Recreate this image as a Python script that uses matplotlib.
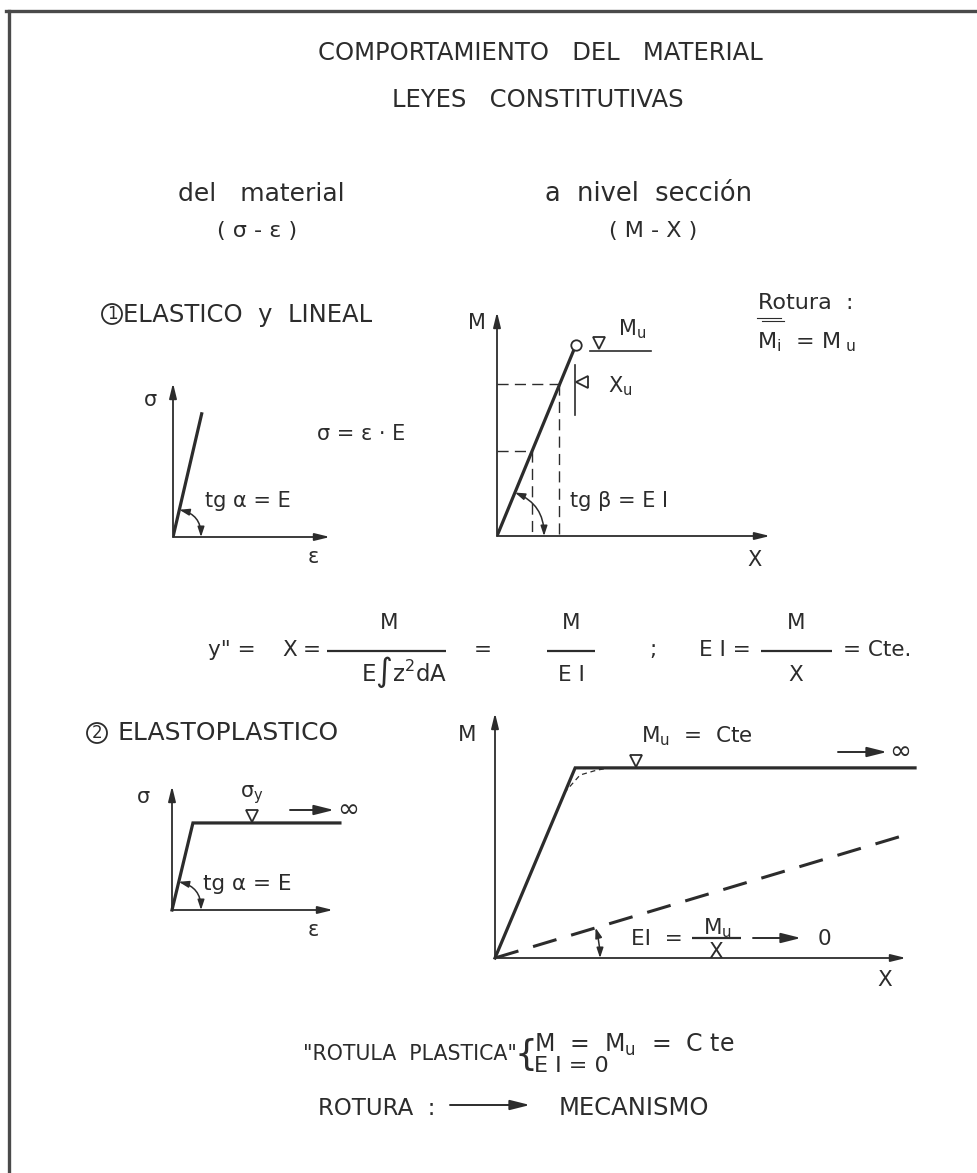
import numpy as np
import matplotlib
matplotlib.use('Agg')
import matplotlib.pyplot as plt
from matplotlib.patches import Circle, FancyArrowPatch

plt.rcParams['font.family'] = ['DejaVu Sans']
plt.rcParams['mathtext.fontset'] = 'dejavusans'
plt.rcParams['mathtext.default'] = 'regular'

W, H = 977, 1173
INK = '#2c2c2c'

# ---------------- data (axis units 0..10) ----------------
# 1) elastic-linear, material  (sigma - epsilon)
eps_lin = [0.0, 1.85]
sig_lin = [0.0, 8.1]
# 1) elastic-linear, section  (M - chi)
chi_lin = [0.0, 2.89]
mom_lin = [0.0, 8.53]
chi_levels = [1.28, 2.27]
mom_levels = [3.79, 6.79]
# 2) elastoplastic, material
eps_ep = [0.0, 1.30, 10.43]
sig_ep = [0.0, 7.02, 7.02]
# 2) elastoplastic, section
chi_ep = [0.0, 1.95, 10.22]
mom_ep = [0.0, 7.76, 7.76]
chi_secant = [0.0, 9.98]
mom_secant = [0.0, 5.02]
chi_round = [1.68, 2.07, 2.48, 2.80]
mom_round = [6.73, 7.47, 7.67, 7.76]

fig = plt.figure(figsize=(W / 100, H / 100), dpi=100)
fig.patch.set_facecolor('white')
ov = fig.add_axes([0, 0, 1, 1])
ov.set_xlim(0, W)
ov.set_ylim(H, 0)
ov.axis('off')

AX_ARROW = dict(arrowstyle='-|>,head_length=0.9,head_width=0.22', color=INK,
                lw=1.3, shrinkA=0, shrinkB=0, mutation_scale=10)


def chart(ox, oy, wpx, hpx):
    ax = fig.add_axes([ox / W, (H - oy) / H, wpx / W, hpx / H])
    ax.set_xlim(0, 10)
    ax.set_ylim(0, 10)
    ax.axis('off')
    ax.annotate('', xy=(10, 0), xytext=(0, 0), arrowprops=AX_ARROW, annotation_clip=False)
    ax.annotate('', xy=(0, 10), xytext=(0, 0), arrowprops=AX_ARROW, annotation_clip=False)
    return ax


def angle_arc(ax, pt, r_px):
    tr = ax.transData
    o = tr.transform((0, 0))
    p = tr.transform(pt)
    d = (p - o) / np.hypot(*(p - o))
    th = np.arctan2(d[1], d[0])
    a = o + r_px * d
    b = o + np.array([r_px, 0.0])
    inv = tr.inverted()
    A = inv.transform(a)
    B = inv.transform(b)
    rad = -np.tan(th / 2) / 2
    ax.add_patch(FancyArrowPatch(A, B, connectionstyle=f'arc3,rad={rad:.3f}',
                                 arrowstyle='<|-|>,head_length=0.6,head_width=0.2',
                                 mutation_scale=10, lw=1.1, color=INK,
                                 shrinkA=0, shrinkB=0, clip_on=False))


def T(x, y, s, size=15, ha='center', va='baseline', **kw):
    ov.text(x, y, s, fontsize=size, ha=ha, va=va, color=INK, **kw)


def harrow(x0, x1, y):
    ov.annotate('', xy=(x1, y), xytext=(x0, y),
                arrowprops=dict(arrowstyle='-|>,head_length=1.2,head_width=0.3', color=INK,
                                lw=1.4, shrinkA=0, shrinkB=0, mutation_scale=10))


def fbar(x0, x1, y):
    ov.plot([x0, x1], [y, y], color=INK, lw=1.6, solid_capstyle='butt')


# ---------------- frame ----------------
ov.plot([6, W], [11, 11], color='#4a4a4a', lw=2.4)
ov.plot([9, 9], [11, H], color='#4a4a4a', lw=2.4)

# ---------------- headings ----------------
T(540, 60, 'COMPORTAMIENTO   DEL   MATERIAL', 17.5)
T(538, 107, 'LEYES   CONSTITUTIVAS', 17.5)
T(261, 201, 'del   material', 18)
T(649, 201, 'a  nivel  sección', 18.5)
T(257, 237, '( σ - ε )', 16)
T(653, 237, '( M - X )', 16)

# ---------------- 1) ELASTICO y LINEAL ----------------
ov.add_patch(Circle((112, 314), 10, fill=False, ec=INK, lw=1.3))
T(112, 314, '1', 12, va='center')
T(123, 322, 'ELASTICO  y  LINEAL', 17.5, ha='left')

axA = chart(173, 537, 157, 154)
axA.plot(eps_lin, sig_lin, color=INK, lw=2.3, solid_capstyle='butt')
angle_arc(axA, (eps_lin[1], sig_lin[1]), 28)
T(150, 400, 'σ', 15, va='center')
T(313, 557, 'ε', 15, va='center')
T(205, 507, 'tg α = E', 15, ha='left')
T(317, 440, 'σ = ε · E', 15, ha='left')

axB = chart(497, 536, 273, 224)
for c, m in zip(chi_levels, mom_levels):
    axB.plot([0, c], [m, m], color=INK, lw=1.0, dashes=(8, 4.5))
    axB.plot([c, c], [m, 0], color=INK, lw=1.0, dashes=(8, 4.5))
axB.plot(chi_lin, mom_lin, color=INK, lw=2.3, solid_capstyle='butt')
axB.plot(chi_lin[1:], mom_lin[1:], 'o', ms=7.5, mfc='white', mec=INK, mew=1.3)
axB.plot([3.74], [8.62], 'v', ms=8.5, mfc='white', mec=INK, mew=1.3, clip_on=False)
axB.plot([3.41, 5.64], [8.26, 8.26], color=INK, lw=1.2, clip_on=False)
axB.plot([2.86, 2.86], [5.40, 7.63], color=INK, lw=1.2)
axB.plot([3.11], [6.88], '<', ms=8, mfc='white', mec=INK, mew=1.3)
angle_arc(axB, (chi_lin[1], mom_lin[1]), 47)
T(477, 323, 'M', 15, va='center')
T(618, 335, 'M$_{u}$', 15, ha='left')
T(608, 392, 'X$_{u}$', 15, ha='left')
T(570, 507, 'tg β = E I', 15, ha='left')
T(755, 560, 'X', 15, va='center')
T(758, 309, 'Rotura  :', 16, ha='left')
ov.plot([757, 781], [318, 318], color=INK, lw=0.8)
ov.plot([762, 784], [321, 321], color=INK, lw=0.8)
T(757, 348, 'M$_{i}$  = M$_{\\ u}$', 16, ha='left')

# ---------------- curvature equation ----------------
T(208, 656, 'y" =', 15.5, ha='left')
T(290, 656, 'X', 15.5)
T(312, 656, '=', 15.5)
T(389, 629, 'M', 15.5)
fbar(327, 446, 651)
T(404, 681, r'E$\int$z$^{2}$dA', 16.5)
T(483, 656, '=', 15.5)
T(571, 629, 'M', 15.5)
fbar(547, 595, 651)
T(571, 681, 'E I', 15.5)
T(653, 656, ';', 15.5)
T(699, 656, 'E I =', 15.5, ha='left')
T(796, 629, 'M', 15.5)
fbar(761, 832, 651)
T(796, 681, 'X', 15.5)
T(843, 656, '= Cte.', 15.5, ha='left')

# ---------------- 2) ELASTOPLASTICO ----------------
ov.add_patch(Circle((97, 733), 10, fill=False, ec=INK, lw=1.3))
T(97, 733, '2', 12, va='center')
T(118, 740, 'ELASTOPLASTICO', 18, ha='left')

axC = chart(172, 910, 161, 124)
axC.plot(eps_ep, sig_ep, color=INK, lw=2.3, solid_joinstyle='miter', clip_on=False)
axC.plot([4.97], [7.60], 'v', ms=8, mfc='white', mec=INK, mew=1.3, clip_on=False)
angle_arc(axC, (eps_ep[1], sig_ep[1]), 29)
T(143, 797, 'σ', 15, va='center')
T(240, 797, 'σ$_{y}$', 15, ha='left')
harrow(290, 334, 810)
T(348, 810, '∞', 19, va='center')
T(203, 890, 'tg α = E', 15.5, ha='left')
T(313, 930, 'ε', 15, va='center')

axD = chart(495, 958, 411, 245)
axD.plot(chi_ep, mom_ep, color=INK, lw=2.3, solid_joinstyle='miter', clip_on=False)
axD.plot(chi_round, mom_round, color=INK, lw=0.9, dashes=(4, 3))
axD.plot(chi_secant, mom_secant, color=INK, lw=2.2, dashes=(8, 5))
axD.plot([3.43], [8.06], 'v', ms=8.5, mfc='white', mec=INK, mew=1.3, clip_on=False)
angle_arc(axD, (chi_secant[1], mom_secant[1]), 105)
T(467, 735, 'M', 15.5, va='center')
T(641, 742, 'M$_{u}$  =  Cte', 15.5, ha='left')
harrow(838, 887, 752)
T(900, 752, '∞', 19, va='center')
T(631, 945, 'EI  =', 15.5, ha='left')
T(717, 934, 'M$_{u}$', 15.5)
fbar(692, 741, 938)
T(716, 958, 'X', 15.5)
harrow(753, 801, 938)
T(824, 945, '0', 15.5)
T(885, 980, 'X', 15.5, va='center')

# ---------------- hinge / collapse ----------------
T(303, 1060, '"ROTULA  PLASTICA"', 14.8, ha='left')
T(526, 1055, '{', 26, va='center', ha='center')
T(534, 1052, 'M  =  M$_{u}$  =  C te', 17, ha='left')
T(534, 1072, 'E I = 0', 16, ha='left')
T(318, 1115, 'ROTURA  :', 16.5, ha='left')
harrow(450, 530, 1105)
T(559, 1115, 'MECANISMO', 17.5, ha='left')

fig.savefig('out.png', dpi=100, facecolor='white')
